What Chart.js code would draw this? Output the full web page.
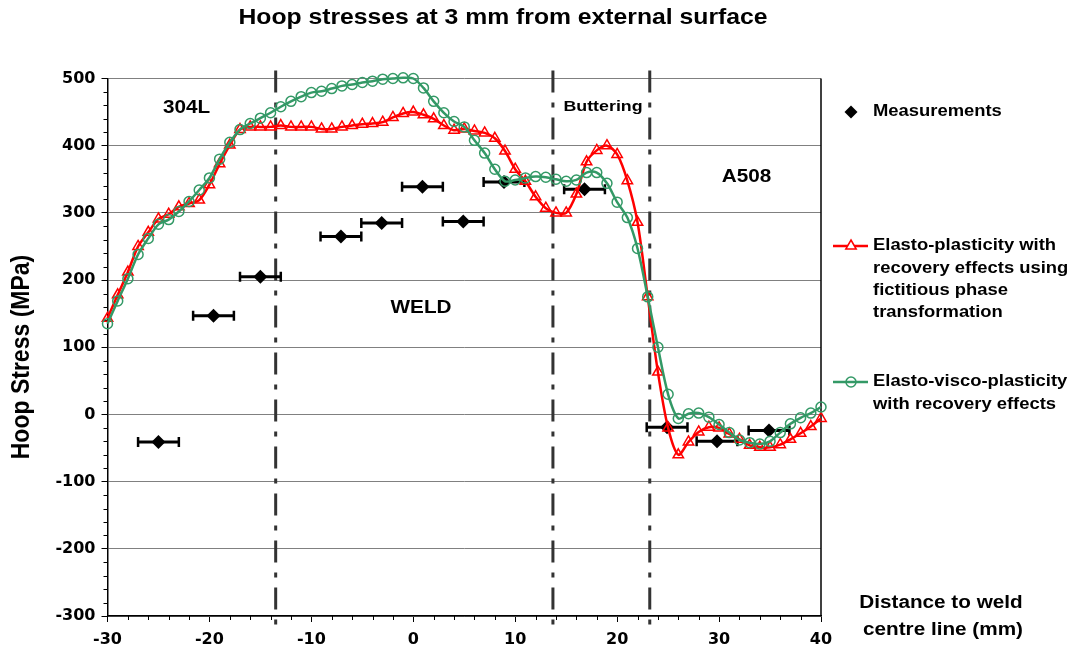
<!DOCTYPE html>
<html>
<head>
<meta charset="utf-8">
<script src="https://cdn.jsdelivr.net/npm/chart.js@4.4.1/dist/chart.umd.min.js"></script>
<style>
  html, body { margin: 0; padding: 0; background: #fff; }
  #wrap { width: 1075px; height: 650px; }
</style>
</head>
<body>
<div id="wrap"><canvas id="c" width="1075" height="650"></canvas></div>
<script>
// ---------------- DATA ----------------
const distance = [-30,-29,-28,-27,-26,-25,-24,-23,-22,-21,-20,-19,-18,-17,-16,-15,-14,-13,-12,-11,
  -10,-9,-8,-7,-6,-5,-4,-3,-2,-1,0,1,2,3,4,5,6,7,8,9,10,11,12,13,14,15,16,17,18,19,20,
  21,22,23,24,25,26,27,28,29,30,31,32,33,34,35,36,37,38,39,40];

const elastoPlastic = [143,178,212,250,271,291,298,309,314,319,342,373,401,424,428,428,428,430,428,428,
  428,425,425,428,430,432,433,435,442,448,450,446,440,430,423,425,422,419,411,392,365,
  347,324,307,300,300,328,376,393,400,387,348,286,175,63,-20,-60,-41,-26,-19,-20,
  -29,-37,-46,-49,-49,-45,-37,-28,-18,-6];

const elastoVisco = [135,169,202,238,262,283,290,302,317,334,352,380,405,424,433,441,449,458,466,473,
  479,481,485,489,491,494,496,499,500,501,500,486,466,449,436,428,408,389,365,347,349,
  352,354,353,350,347,349,360,360,344,316,293,247,175,100,30,-6,1,2,-4,-15,
  -27,-38,-42,-44,-40,-27,-14,-5,2,11];

const measX   = [-25, -19.6, -15, -7.1, -3.1, 0.9, 4.9, 8.9, 16.8, 24.9, 29.8, 34.9];
const measY   = [-41, 147, 205, 265, 285, 339, 287, 346, 335, -19, -40, -24];
const measErr = [2, 2, 2, 2, 2, 2, 2, 2, 2, 2, 2, 2];

const zoneBoundaries = [-13.5, 13.7, 23.2];

const seriesNames = ['Measurements',
  ['Elasto-plasticity with', 'recovery effects using', 'fictitious phase', 'transformation'],
  ['Elasto-visco-plasticity', 'with recovery effects']];

const titleText = 'Hoop stresses at 3 mm from external surface';
const yTitle = 'Hoop Stress (MPa)';
const xTitle = ['Distance to weld', 'centre line (mm)'];
const zoneLabels = ['304L', 'WELD', 'Buttering', 'A508'];

// ---------------- HELPERS ----------------
const RED = '#ff0000';
const GREEN = '#339966';
const SX = 1.15;

function stext(ctx, txt, x, y, size, align) {
  ctx.save();
  ctx.font = 'bold ' + size + 'px "Liberation Sans", Arial, sans-serif';
  ctx.textBaseline = 'middle';
  ctx.textAlign = 'left';
  ctx.fillStyle = '#000';
  const w = ctx.measureText(txt).width * SX;
  const left = align === 'center' ? x - w / 2 : (align === 'right' ? x - w : x);
  ctx.translate(left, y);
  ctx.scale(SX, 1);
  ctx.fillText(txt, 0, 0);
  ctx.restore();
}

const decor = {
  id: 'decor',
  beforeDatasetsDraw(chart) {
    const ctx = chart.ctx;
    const xs = chart.scales.x, ys = chart.scales.y;
    const a = chart.chartArea;
    ctx.save();
    // right border of plot area
    ctx.strokeStyle = '#000';
    ctx.lineWidth = 1.5;
    ctx.beginPath();
    ctx.moveTo(a.right, a.top);
    ctx.lineTo(a.right, a.bottom);
    ctx.stroke();
    // minor ticks
    ctx.lineWidth = 1;
    ctx.beginPath();
    for (let v = ys.min; v <= ys.max; v += 20) {
      if (v % 100 === 0) continue;
      const py = Math.round(ys.getPixelForValue(v)) + 0.5;
      ctx.moveTo(a.left - 4, py); ctx.lineTo(a.left, py);
    }
    for (let v = xs.min; v <= xs.max; v += 2) {
      if (v % 10 === 0) continue;
      const px = Math.round(xs.getPixelForValue(v)) + 0.5;
      ctx.moveTo(px, a.bottom); ctx.lineTo(px, a.bottom + 4);
    }
    ctx.stroke();
    // zone boundaries (dash-dot)
    ctx.strokeStyle = '#333';
    ctx.lineWidth = 3;
    ctx.setLineDash([22, 10, 5, 10]);
    zoneBoundaries.forEach(b => {
      const px = xs.getPixelForValue(b);
      ctx.beginPath();
      ctx.moveTo(px, a.top - 8);
      ctx.lineTo(px, a.bottom + 15);
      ctx.stroke();
    });
    ctx.setLineDash([]);
    // error bars
    ctx.strokeStyle = '#000';
    ctx.lineWidth = 3;
    measX.forEach((mx, i) => {
      const y = ys.getPixelForValue(measY[i]);
      const x1 = xs.getPixelForValue(mx - measErr[i]);
      const x2 = xs.getPixelForValue(mx + measErr[i]);
      ctx.beginPath();
      ctx.moveTo(x1, y); ctx.lineTo(x2, y);
      ctx.stroke();
      ctx.lineWidth = 2.5;
      ctx.beginPath();
      ctx.moveTo(x1, y - 5); ctx.lineTo(x1, y + 5);
      ctx.moveTo(x2, y - 5); ctx.lineTo(x2, y + 5);
      ctx.stroke();
      ctx.lineWidth = 3;
    });
    ctx.restore();
  },
  afterDraw(chart) {
    const ctx = chart.ctx;
    // title
    stext(ctx, titleText, 503, 18.5, 21.5, 'center');
    // zone labels
    stext(ctx, zoneLabels[0], 186.5, 108, 18, 'center');
    stext(ctx, zoneLabels[1], 421, 308, 18, 'center');
    stext(ctx, zoneLabels[2], 603, 106.5, 15.5, 'center');
    stext(ctx, zoneLabels[3], 746.5, 177, 18, 'center');
    // x axis title
    stext(ctx, xTitle[0], 941, 603.5, 18, 'center');
    stext(ctx, xTitle[1], 943, 630, 18, 'center');
    // y axis title
    ctx.save();
    ctx.translate(22, 357);
    ctx.rotate(-Math.PI / 2);
    ctx.scale(1, SX);
    ctx.font = 'bold 23px "Liberation Sans", Arial, sans-serif';
    ctx.textAlign = 'center';
    ctx.textBaseline = 'middle';
    ctx.fillStyle = '#000';
    ctx.fillText(yTitle, 0, 0);
    ctx.restore();
    // legend
    ctx.save();
    ctx.fillStyle = '#000';
    ctx.beginPath();
    ctx.moveTo(851, 112 - 6.5); ctx.lineTo(857.5, 112); ctx.lineTo(851, 112 + 6.5); ctx.lineTo(844.5, 112);
    ctx.closePath(); ctx.fill();
    ctx.strokeStyle = RED; ctx.lineWidth = 2.5;
    ctx.beginPath(); ctx.moveTo(833, 246); ctx.lineTo(868, 246); ctx.stroke();
    ctx.lineWidth = 1.5; ctx.fillStyle = '#fff';
    ctx.beginPath();
    ctx.moveTo(851, 246 - 6); ctx.lineTo(856.2, 246 + 3); ctx.lineTo(845.8, 246 + 3); ctx.closePath();
    ctx.fill(); ctx.stroke();
    ctx.strokeStyle = GREEN; ctx.lineWidth = 2.5;
    ctx.beginPath(); ctx.moveTo(833, 382); ctx.lineTo(868, 382); ctx.stroke();
    ctx.lineWidth = 1.5;
    ctx.beginPath(); ctx.arc(851, 382, 5, 0, Math.PI * 2); ctx.stroke();
    ctx.restore();
    stext(ctx, seriesNames[0], 873, 111.5, 16, 'left');
    seriesNames[1].forEach((t, i) => stext(ctx, t, 873, 246 + i * 22.2, 16, 'left'));
    seriesNames[2].forEach((t, i) => stext(ctx, t, 873, 382 + i * 22.2, 16, 'left'));
  }
};

const tickFont = { family: '"DejaVu Sans", sans-serif', weight: 'bold', size: 16 };

new Chart(document.getElementById('c'), {
  type: 'line',
  data: {
    datasets: [
      {
        label: 'Measurements',
        data: measX.map((x, i) => ({ x: x, y: measY[i] })),
        showLine: false,
        pointStyle: 'rectRot',
        pointRadius: 7,
        backgroundColor: '#000',
        borderColor: '#000',
        pointBorderWidth: 0,
        order: 3
      },
      {
        label: 'Elasto-plasticity with recovery effects using fictitious phase transformation',
        data: distance.map((x, i) => ({ x: x, y: elastoPlastic[i] })),
        borderColor: RED,
        borderWidth: 2.5,
        tension: 0.3,
        pointStyle: 'triangle',
        pointRadius: 6,
        pointBorderWidth: 1.5,
        pointBorderColor: RED,
        pointBackgroundColor: 'rgba(255,255,255,0)',
        clip: false,
        order: 2
      },
      {
        label: 'Elasto-visco-plasticity with recovery effects',
        data: distance.map((x, i) => ({ x: x, y: elastoVisco[i] })),
        borderColor: GREEN,
        borderWidth: 2.5,
        tension: 0.3,
        pointStyle: 'circle',
        pointRadius: 5,
        pointBorderWidth: 1.5,
        pointBorderColor: GREEN,
        pointBackgroundColor: 'rgba(255,255,255,0)',
        clip: false,
        order: 1
      }
    ]
  },
  options: {
    responsive: false,
    animation: false,
    events: [],
    layout: { padding: { top: 78.5, right: 254, bottom: 0, left: 0 } },
    plugins: { legend: { display: false }, title: { display: false }, tooltip: { enabled: false } },
    scales: {
      x: {
        type: 'linear', min: -30, max: 40,
        ticks: { stepSize: 10, color: '#000', font: tickFont, padding: 8, maxRotation: 0 },
        grid: { drawOnChartArea: false, drawTicks: true, tickLength: 6, color: '#000', tickColor: '#000', lineWidth: 1 },
        border: { color: '#000', width: 1.5 },
        afterFit: s => { s.height = 34; }
      },
      y: {
        min: -300, max: 500,
        ticks: { stepSize: 100, color: '#000', font: tickFont, padding: 6 },
        grid: { color: '#808080', tickColor: '#000', tickLength: 6, lineWidth: 1 },
        border: { color: '#000', width: 1.5 },
        afterFit: s => { s.width = 107.5; }
      }
    }
  },
  plugins: [decor]
});
</script>
</body>
</html>
